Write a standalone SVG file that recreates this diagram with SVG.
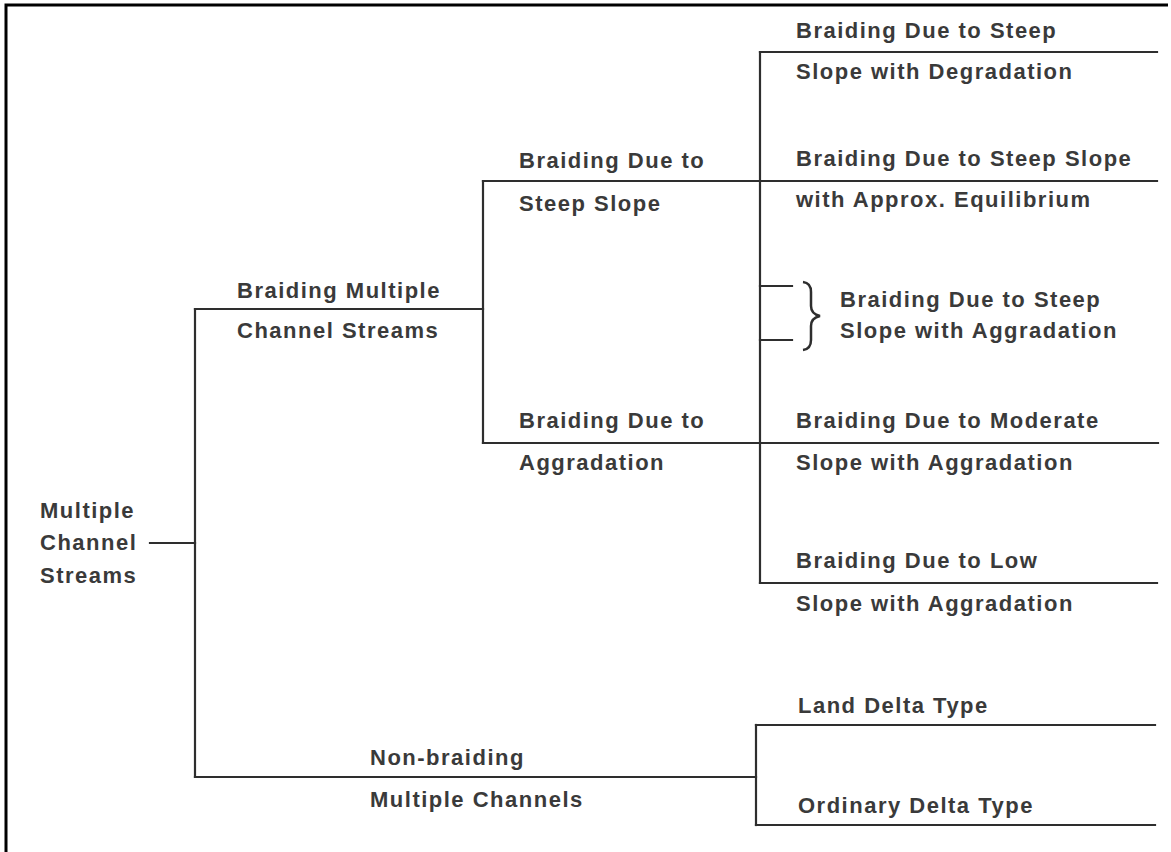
<svg xmlns="http://www.w3.org/2000/svg" width="1171" height="852" viewBox="0 0 1171 852">
<style>
  .t { font-family: "Liberation Sans", Arial, sans-serif; font-weight: bold; font-size: 22px; letter-spacing: 1.5px; fill: #3a3a3a; }
  .l { stroke: #2e2e2e; stroke-width: 2.2; fill: none; stroke-linecap: square; }
  .frame { stroke: #000; stroke-width: 3; fill: none; }
</style>
<rect x="0" y="0" width="1171" height="852" fill="#fff"/>
<path class="frame" d="M6,852 V5 H1168"/>

<g id="connectors">
  <path class="l" d="M150,543 H195"/>
  <path class="l" d="M195,309 V777"/>
  <path class="l" d="M195,309 H483"/>
  <path class="l" d="M483,181 V443"/>
  <path class="l" d="M483,181 H1157"/>
  <path class="l" d="M483,443 H1158"/>
  <path class="l" d="M760,52 V583"/>
  <path class="l" d="M760,52 H1157"/>
  <path class="l" d="M760,583 H1157"/>
  <path class="l" d="M760,286 H792"/>
  <path class="l" d="M760,340 H792"/>
  <path class="l" d="M195,777 H756"/>
  <path class="l" d="M756,725 V825"/>
  <path class="l" d="M756,725 H1155"/>
  <path class="l" d="M756,825 H1155"/>
  <path d="M803,282 Q811,283 811,292 V306 Q811,314 820,316 Q811,318 811,326 V340 Q811,349 803,350" stroke="#2e2e2e" stroke-width="2.5" fill="none"/>
</g>

<g id="root">
  <text class="t" x="40" y="518">Multiple</text>
  <text class="t" x="40" y="550">Channel</text>
  <text class="t" x="40" y="583">Streams</text>
</g>
<g id="braiding-multiple">
  <text class="t" x="237" y="298">Braiding Multiple</text>
  <text class="t" x="237" y="338">Channel Streams</text>
</g>
<g id="non-braiding">
  <text class="t" x="370" y="765">Non-braiding</text>
  <text class="t" x="370" y="807">Multiple Channels</text>
</g>
<g id="steep-slope">
  <text class="t" x="519" y="168">Braiding Due to</text>
  <text class="t" x="519" y="211">Steep Slope</text>
</g>
<g id="aggradation">
  <text class="t" x="519" y="428">Braiding Due to</text>
  <text class="t" x="519" y="470">Aggradation</text>
</g>
<g id="steep-degradation">
  <text class="t" x="796" y="38">Braiding Due to Steep</text>
  <text class="t" x="796" y="79">Slope with Degradation</text>
</g>
<g id="steep-equilibrium">
  <text class="t" x="796" y="166">Braiding Due to Steep Slope</text>
  <text class="t" x="796" y="207">with Approx. Equilibrium</text>
</g>
<g id="steep-aggradation">
  <text class="t" x="840" y="307">Braiding Due to Steep</text>
  <text class="t" x="840" y="338">Slope with Aggradation</text>
</g>
<g id="moderate-aggradation">
  <text class="t" x="796" y="428">Braiding Due to Moderate</text>
  <text class="t" x="796" y="470">Slope with Aggradation</text>
</g>
<g id="low-aggradation">
  <text class="t" x="796" y="568">Braiding Due to Low</text>
  <text class="t" x="796" y="611">Slope with Aggradation</text>
</g>
<g id="land-delta">
  <text class="t" x="798" y="713">Land Delta Type</text>
</g>
<g id="ordinary-delta">
  <text class="t" x="798" y="813">Ordinary Delta Type</text>
</g>
</svg>
